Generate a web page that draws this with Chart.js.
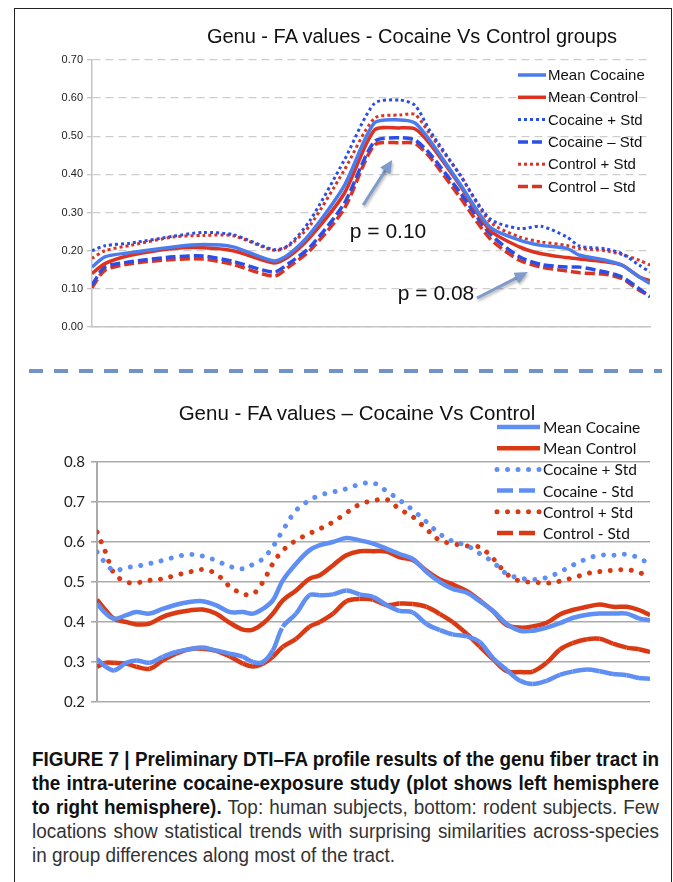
<!DOCTYPE html>
<html>
<head>
<meta charset="utf-8">
<script src="https://cdn.jsdelivr.net/npm/chart.js@4.4.1/dist/chart.umd.min.js"></script>
<style>
    html, body { margin: 0; padding: 0; background: #fff; }
    body { width: 673px; height: 882px; position: relative; overflow: hidden; font-family: "Liberation Sans", Arial, sans-serif; }
    #frame { position: absolute; left: 14px; top: 8px; width: 658px; height: 920px; border: 1.5px solid #222; box-sizing: border-box; }
    canvas { position: absolute; left: 0; }
    #topChart { top: 0; }
    #bottomChart { top: 375px; }
    .title { position: absolute; white-space: nowrap; color: #111; transform: translateX(-50%); }
    #topTitle { left: 412px; top: 26px; font-size: 20px; line-height: 20px; }
    #bottomTitle { left: 357px; top: 402px; font-size: 20.5px; line-height: 21px; }
    #sep { position: absolute; left: 29px; top: 369px; width: 633px; height: 4px;
           background: repeating-linear-gradient(to right, #7393c8 0 14px, transparent 14px 25px); }
    #caption { position: absolute; left: 32px; top: 747px; width: 627px;
               font-family: "Liberation Sans", Arial, sans-serif; font-size: 19.5px; color: #333; }
    .cl { height: 24px; line-height: 24px; white-space: nowrap; transform-origin: left center; }
    .cl b, .cl.b { font-weight: 700; color: #111; }
</style>
</head>
<body>
<div id="frame"></div>
<canvas id="topChart" width="673" height="345"></canvas>
<div id="topTitle" class="title">Genu - FA values - Cocaine Vs Control groups</div>
<div id="sep"></div>
<canvas id="bottomChart" width="673" height="345"></canvas>
<div id="bottomTitle" class="title">Genu - FA values – Cocaine Vs Control</div>
<div id="caption">
    <div class="cl b"><span class="in">FIGURE 7 | Preliminary DTI–FA profile results of the genu fiber tract in</span></div>
    <div class="cl b"><span class="in">the intra-uterine cocaine-exposure study (plot shows left hemisphere</span></div>
    <div class="cl"><span class="in"><b>to right hemisphere).</b> Top: human subjects, bottom: rodent subjects. Few</span></div>
    <div class="cl"><span class="in">locations show statistical trends with surprising similarities across-species</span></div>
    <div class="cl last"><span class="in">in group differences along most of the tract.</span></div>
</div>

<script>
// ================= Data: top chart (human) =================
const topPositions = [0, 2.3, 6.9, 14.6, 19.9, 25.3, 32.6, 35.2, 39.1, 45.2, 50.6, 55.2, 57.9, 60.5, 65.9, 71.3, 76.6, 80.5, 85.1, 87.4, 92.0, 95.0, 98.1, 100];
const topMeanCocaine = [0.157, 0.184, 0.195, 0.21, 0.216, 0.21, 0.173, 0.19, 0.245, 0.37, 0.535, 0.543, 0.535, 0.49, 0.376, 0.262, 0.228, 0.214, 0.206, 0.188, 0.175, 0.162, 0.131, 0.114];
const topMeanControl = [0.14, 0.166, 0.188, 0.206, 0.208, 0.20, 0.168, 0.184, 0.236, 0.35, 0.516, 0.522, 0.519, 0.481, 0.372, 0.254, 0.21, 0.192, 0.182, 0.178, 0.171, 0.162, 0.131, 0.122];
const topCocainePlus = [0.20, 0.213, 0.22, 0.238, 0.248, 0.242, 0.203, 0.214, 0.28, 0.437, 0.586, 0.595, 0.581, 0.516, 0.40, 0.284, 0.258, 0.264, 0.236, 0.212, 0.205, 0.192, 0.162, 0.144];
const topCocaineMinus = [0.11, 0.157, 0.171, 0.184, 0.186, 0.172, 0.144, 0.166, 0.21, 0.324, 0.486, 0.496, 0.49, 0.455, 0.354, 0.245, 0.184, 0.164, 0.157, 0.157, 0.144, 0.131, 0.10, 0.079];
const topControlPlus = [0.18, 0.20, 0.214, 0.236, 0.24, 0.239, 0.201, 0.212, 0.267, 0.411, 0.547, 0.556, 0.557, 0.507, 0.40, 0.276, 0.236, 0.223, 0.214, 0.206, 0.20, 0.19, 0.175, 0.162];
const topControlMinus = [0.103, 0.149, 0.166, 0.177, 0.178, 0.164, 0.133, 0.157, 0.201, 0.31, 0.477, 0.483, 0.481, 0.446, 0.341, 0.232, 0.175, 0.157, 0.147, 0.142, 0.138, 0.127, 0.096, 0.083];
const topLabels = ["Mean Cocaine", "Mean Control", "Cocaine + Std", "Cocaine – Std", "Control + Std", "Control – Std"];
const topTicks = { min: 0, max: 0.7, step: 0.1 };

// p-value notes: text anchor and arrow (tract position, FA value)
const pNotes = [
    { text: "p = 0.10", at: [46.2, 0.233], from: [48.6, 0.32], to: [53.8, 0.438] },
    { text: "p = 0.08", at: [54.8, 0.071], from: [69.0, 0.076], to: [78.1, 0.144] }
];

// ================= Data: bottom chart (rodent) =================
const bottomPositions = [0, 1.6, 3.1, 5.3, 7.1, 9.5, 11.9, 14.3, 16.7, 19.1, 21.5, 24.0, 26.4, 28.2, 30.0, 31.8, 33.6, 36.0, 38.4, 40.3, 42.7, 45.1, 47.5, 49.9,
    52.4, 54.7, 57.1, 59.6, 62.0, 64.3, 66.9, 69.2, 71.6, 74.1, 76.5, 78.8, 81.3, 83.7, 86.0, 88.6, 90.9, 93.3, 95.8, 98.0, 100];
const bottomMeanCocaine = [0.446, 0.421, 0.408, 0.417, 0.425, 0.421, 0.433, 0.443, 0.45, 0.452, 0.442, 0.425, 0.425, 0.421, 0.433, 0.454, 0.504, 0.546, 0.579, 0.592, 0.60, 0.61, 0.604, 0.596,
    0.583, 0.570, 0.558, 0.525, 0.50, 0.483, 0.473, 0.452, 0.428, 0.395, 0.378, 0.378, 0.386, 0.397, 0.41, 0.418, 0.421, 0.421, 0.421, 0.409, 0.404];
const bottomMeanControl = [0.456, 0.429, 0.408, 0.40, 0.394, 0.396, 0.413, 0.423, 0.429, 0.431, 0.421, 0.398, 0.381, 0.381, 0.396, 0.421, 0.454, 0.479, 0.508, 0.517, 0.542, 0.567, 0.577, 0.577,
    0.576, 0.562, 0.555, 0.528, 0.506, 0.494, 0.477, 0.454, 0.427, 0.392, 0.386, 0.389, 0.398, 0.419, 0.43, 0.438, 0.444, 0.438, 0.438, 0.43, 0.417];
const bottomCocainePlus = [0.575, 0.546, 0.529, 0.536, 0.539, 0.546, 0.554, 0.563, 0.569, 0.565, 0.554, 0.539, 0.533, 0.544, 0.558, 0.588, 0.629, 0.679, 0.704, 0.717, 0.725, 0.733, 0.744, 0.748,
    0.727, 0.705, 0.68, 0.65, 0.62, 0.602, 0.591, 0.571, 0.55, 0.52, 0.51, 0.506, 0.511, 0.525, 0.542, 0.558, 0.567, 0.567, 0.569, 0.56, 0.544];
const bottomCocaineMinus = [0.308, 0.288, 0.279, 0.298, 0.304, 0.298, 0.313, 0.325, 0.332, 0.336, 0.329, 0.321, 0.313, 0.30, 0.30, 0.329, 0.388, 0.421, 0.467, 0.467, 0.469, 0.479, 0.469, 0.463,
    0.442, 0.428, 0.424, 0.395, 0.38, 0.369, 0.364, 0.35, 0.31, 0.28, 0.253, 0.245, 0.253, 0.268, 0.276, 0.281, 0.277, 0.27, 0.267, 0.26, 0.258];
const bottomControlPlus = [0.625, 0.573, 0.521, 0.50, 0.498, 0.504, 0.508, 0.517, 0.525, 0.531, 0.521, 0.489, 0.47, 0.47, 0.50, 0.546, 0.579, 0.604, 0.621, 0.633, 0.65, 0.673, 0.694, 0.703,
    0.706, 0.682, 0.663, 0.632, 0.604, 0.596, 0.59, 0.587, 0.559, 0.52, 0.502, 0.50, 0.497, 0.502, 0.51, 0.521, 0.526, 0.529, 0.531, 0.524, 0.511];
const bottomControlMinus = [0.288, 0.298, 0.298, 0.296, 0.288, 0.283, 0.304, 0.321, 0.332, 0.333, 0.328, 0.314, 0.296, 0.289, 0.296, 0.313, 0.338, 0.358, 0.388, 0.40, 0.421, 0.452, 0.458, 0.456,
    0.442, 0.446, 0.445, 0.438, 0.42, 0.40, 0.37, 0.339, 0.307, 0.277, 0.275, 0.276, 0.298, 0.331, 0.347, 0.357, 0.358, 0.346, 0.336, 0.332, 0.325];
const bottomLabels = ["Mean Cocaine", "Mean Control", "Cocaine + Std", "Cocaine - Std", "Control + Std", "Control - Std"];
const bottomTicks = { min: 0.2, max: 0.8, step: 0.1 };

// ================= Utility =================
function points(xs, ys) {
    return ys.map((y, i) => ({ x: xs[i], y: y }));
}

// legend drawn inside the plot, top right, like the original figure
const insideLegend = {
    id: "insideLegend",
    afterDraw(chart, args, opts) {
        const ctx = chart.ctx;
        ctx.save();
        ctx.font = opts.font;
        ctx.textBaseline = "middle";
        ctx.fillStyle = opts.color;
        chart.data.datasets.forEach((ds, i) => {
            const y = opts.y0 + i * opts.rowH;
            ctx.save();
            ctx.strokeStyle = ds.borderColor;
            ctx.lineWidth = ds.borderWidth;
            ctx.lineCap = ds.borderCapStyle || "butt";
            ctx.setLineDash(ds.legendDash || ds.borderDash || []);
            ctx.beginPath();
            ctx.moveTo(opts.x0, y);
            ctx.lineTo(opts.x1, y);
            ctx.stroke();
            ctx.restore();
            ctx.fillText(ds.label, opts.textX, y + 1);
        });
        ctx.restore();
    }
};

// "p = ..." notes with arrows, placed through the chart scales
const pArrows = {
    id: "pArrows",
    afterDraw(chart) {
        const ctx = chart.ctx;
        const xs = chart.scales.x, ys = chart.scales.y;
        pNotes.forEach(note => {
            const x1 = xs.getPixelForValue(note.from[0]), y1 = ys.getPixelForValue(note.from[1]);
            const x2 = xs.getPixelForValue(note.to[0]), y2 = ys.getPixelForValue(note.to[1]);
            const ang = Math.atan2(y2 - y1, x2 - x1);
            const head = 13;
            ctx.save();
            ctx.shadowColor = "rgba(0,0,0,0.3)";
            ctx.shadowBlur = 3;
            ctx.shadowOffsetX = 1;
            ctx.shadowOffsetY = 2;
            ctx.strokeStyle = "#7e9bcb";
            ctx.fillStyle = "#7e9bcb";
            ctx.lineWidth = 3;
            ctx.beginPath();
            ctx.moveTo(x1, y1);
            ctx.lineTo(x2 - Math.cos(ang) * head * 0.8, y2 - Math.sin(ang) * head * 0.8);
            ctx.stroke();
            ctx.beginPath();
            ctx.moveTo(x2, y2);
            ctx.lineTo(x2 - head * Math.cos(ang) + 6 * Math.sin(ang), y2 - head * Math.sin(ang) - 6 * Math.cos(ang));
            ctx.lineTo(x2 - head * Math.cos(ang) - 6 * Math.sin(ang), y2 - head * Math.sin(ang) + 6 * Math.cos(ang));
            ctx.closePath();
            ctx.fill();
            ctx.restore();

            ctx.save();
            ctx.font = '21px "Liberation Sans", Arial, sans-serif';
            ctx.fillStyle = "#111";
            ctx.textBaseline = "alphabetic";
            ctx.fillText(note.text, xs.getPixelForValue(note.at[0]), ys.getPixelForValue(note.at[1]));
            ctx.restore();
        });
    }
};

// ================= Top chart =================
const TOP_BLUE = "#4a7ced";
const TOP_BLUE_DARK = "#2b4fe6";
const TOP_RED = "#dc3220";

function topSet(label, values, color, width, dash) {
    return {
        label: label,
        data: points(topPositions, values),
        borderColor: color,
        borderWidth: width,
        borderDash: dash,
        pointRadius: 0,
        fill: false
    };
}

new Chart(document.getElementById("topChart").getContext("2d"), {
    type: "line",
    data: {
        datasets: [
            topSet(topLabels[0], topMeanCocaine, TOP_BLUE, 3.5, []),
            topSet(topLabels[1], topMeanControl, TOP_RED, 3.5, []),
            topSet(topLabels[2], topCocainePlus, TOP_BLUE_DARK, 3, [3, 3]),
            topSet(topLabels[3], topCocaineMinus, TOP_BLUE_DARK, 3.5, [10, 4]),
            topSet(topLabels[4], topControlPlus, TOP_RED, 3, [3, 3]),
            topSet(topLabels[5], topControlMinus, TOP_RED, 3.5, [10, 4])
        ]
    },
    options: {
        responsive: false,
        animation: false,
        layout: { padding: { top: 60, right: 23, bottom: 18, left: 0 } },
        elements: { line: { tension: 0.25 } },
        plugins: {
            legend: { display: false },
            tooltip: { enabled: false },
            insideLegend: { x0: 518, x1: 546, textX: 548, y0: 75, rowH: 22.3, font: '15px "Liberation Sans", Arial, sans-serif', color: "#111" }
        },
        scales: {
            x: {
                type: "linear", min: 0, max: 100,
                ticks: { display: false },
                grid: { display: false },
                border: { display: true, color: "#c4c4c4", width: 1.5 },
                afterFit: s => { s.height = 0; }
            },
            y: {
                min: topTicks.min, max: topTicks.max,
                ticks: { stepSize: topTicks.step, callback: v => v.toFixed(2), color: "#222", padding: 4,
                         font: { family: '"Liberation Sans", Arial, sans-serif', size: 11 } },
                grid: { color: "#cdcdcd", lineWidth: 1.3, tickLength: 5, tickColor: "#c4c4c4" },
                border: { dash: [8, 5], color: "#c4c4c4", width: 1.5 },
                afterFit: s => { s.width = 92; }
            }
        }
    },
    plugins: [insideLegend, pArrows]
});

// ================= Bottom chart =================
const BOT_BLUE = "#5f8ff2";
const BOT_RED = "#d93a14";

function bottomSet(label, values, color, style) {
    const ds = {
        label: label,
        data: points(bottomPositions, values),
        borderColor: color,
        borderWidth: 4.5,
        pointRadius: 0,
        fill: false
    };
    if (style === "dot") {
        ds.borderWidth = 5;
        ds.borderDash = [0.01, 10.5];
        ds.borderCapStyle = "round";
    } else if (style === "dash") {
        // dashes restart at every data point, so only the long steps show gaps
        ds.borderDash = [24, 7];
        ds.legendDash = [16, 6];
        ds.segment = { borderDashOffset: c => c.p0DataIndex * 0.0001 };
    }
    return ds;
}

new Chart(document.getElementById("bottomChart").getContext("2d"), {
    type: "line",
    data: {
        datasets: [
            bottomSet(bottomLabels[0], bottomMeanCocaine, BOT_BLUE, "solid"),
            bottomSet(bottomLabels[1], bottomMeanControl, BOT_RED, "solid"),
            bottomSet(bottomLabels[2], bottomCocainePlus, BOT_BLUE, "dot"),
            bottomSet(bottomLabels[3], bottomCocaineMinus, BOT_BLUE, "dash"),
            bottomSet(bottomLabels[4], bottomControlPlus, BOT_RED, "dot"),
            bottomSet(bottomLabels[5], bottomControlMinus, BOT_RED, "dash")
        ]
    },
    options: {
        responsive: false,
        animation: false,
        layout: { padding: { top: 87, right: 23, bottom: 18, left: 0 } },
        elements: { line: { tension: 0.35 } },
        plugins: {
            legend: { display: false },
            tooltip: { enabled: false },
            insideLegend: { x0: 497, x1: 540, textX: 543, y0: 52, rowH: 21.2, font: '15.5px Lato, "Open Sans", sans-serif', color: "#111" }
        },
        scales: {
            x: {
                type: "linear", min: 0, max: 100,
                ticks: { display: false },
                grid: { display: false },
                border: { display: false },
                afterFit: s => { s.height = 0; }
            },
            y: {
                min: bottomTicks.min, max: bottomTicks.max,
                ticks: { stepSize: bottomTicks.step, callback: v => v.toFixed(1), color: "#222", padding: 6,
                         font: { family: 'Lato, "Open Sans", sans-serif', size: 15 } },
                grid: { color: "#ababab", lineWidth: 1.6, tickLength: 6, tickColor: "#ababab" },
                border: { color: "#ababab", width: 2 },
                afterFit: s => { s.width = 97; }
            }
        }
    },
    plugins: [insideLegend]
});

// ================= Caption =================
// squeeze only when a full line is too wide, then justify the full lines
const CAPTION_WIDTH = 627;
const capLines = Array.from(document.querySelectorAll("#caption .cl"));
let squeeze = 1;
capLines.forEach(line => {
    if (line.classList.contains("last")) return;
    const w = line.querySelector(".in").getBoundingClientRect().width;
    squeeze = Math.min(squeeze, CAPTION_WIDTH / w);
});
capLines.forEach(line => {
    const span = line.querySelector(".in");
    const w = span.getBoundingClientRect().width;
    line.style.width = (CAPTION_WIDTH / squeeze) + "px";
    line.style.transform = "scaleX(" + squeeze + ")";
    if (line.classList.contains("last")) return;
    const gaps = (span.textContent.match(/ /g) || []).length;
    span.style.wordSpacing = Math.max(0, (CAPTION_WIDTH / squeeze - w) / gaps) + "px";
});
</script>
</body>
</html>
